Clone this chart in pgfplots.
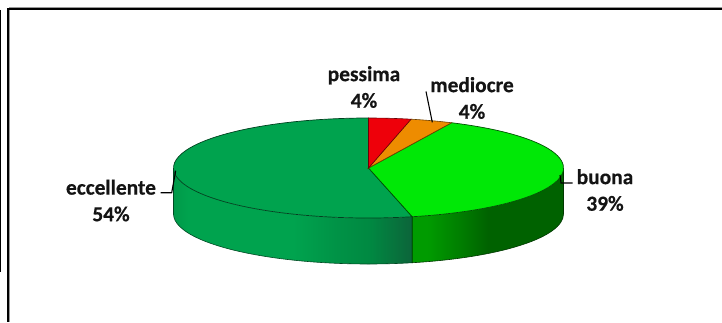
\documentclass[border=0pt]{standalone}
\usepackage{pgfplots}
\usepackage{pgfplotstable}
\usepackage{fontspec}
\pgfplotsset{compat=1.18}
\setmainfont{Carlito}[BoldFont=Carlito Bold,BoldFeatures={FakeBold=0.4}]

% Share of answers per rating, clockwise from the top of the pie
\pgfplotstableread{
share
3.5
3.5
39.4
53.6
}\ratings

\definecolor{cpessima}{RGB}{238,0,10}
\definecolor{cmediocre}{RGB}{238,140,0}
\definecolor{cbuona}{RGB}{0,232,6}
\definecolor{cecc}{RGB}{0,163,78}

% Horizontal shading of the side wall, one per visible slice;
% the range 25bp to 75bp spans the width of the shaded path
\definecolor{eccdark}{RGB}{12,100,58}
\pgfdeclarehorizontalshading{wallecc}{100bp}{
  color(0bp)=(cecc!94!black); color(25bp)=(cecc!94!black); color(28bp)=(cecc); color(50bp)=(cecc);
  color(59bp)=(cecc!90!black); color(66bp)=(cecc!84!black); color(75bp)=(eccdark); color(100bp)=(eccdark)}
\definecolor{wallA}{RGB}{0,155,0}
\definecolor{wallB}{RGB}{0,128,0}
\definecolor{wallC}{RGB}{0,98,0}
\pgfdeclarehorizontalshading{wallbuona}{100bp}{
  color(0bp)=(wallA); color(30bp)=(wallA); color(40bp)=(wallB); color(50bp)=(wallC);
  color(100bp)=(wallC)}

\newcommand{\angleafter}[3]{%
  \pgfplotstablegetelem{#2}{share}\of\ratings
  \pgfmathsetmacro{#1}{#3-3.6*\pgfplotsretval}}

% Pie geometry in axis units
\def\cx{368.5}\def\cy{154}\def\rx{195}\def\ry{50}\def\dep{46}

% Slice boundaries, angles run clockwise starting at the top
\angleafter{\aA}{0}{90}
\angleafter{\aB}{1}{\aA}
\angleafter{\aC}{2}{\aB}
\angleafter{\aD}{3}{\aC}
\pgfmathsetmacro{\lx}{\cx-\rx}
\pgfmathsetmacro{\pAx}{\cx+\rx*cos(\aA)}\pgfmathsetmacro{\pAy}{\cy+\ry*sin(\aA)}
\pgfmathsetmacro{\pBx}{\cx+\rx*cos(\aB)}\pgfmathsetmacro{\pBy}{\cy+\ry*sin(\aB)}
\pgfmathsetmacro{\pCx}{\cx+\rx*cos(\aC)}\pgfmathsetmacro{\pCy}{\cy+\ry*sin(\aC)}
\pgfmathsetmacro{\topy}{\cy+\ry}

\tikzset{
  rim/.style={x radius=\rx pt,y radius=\ry pt},
  lab/.style={font=\fontsize{21.4}{26.6}\selectfont\bfseries, align=center, inner sep=0pt, text=black!92},
}

\begin{document}
\begin{tikzpicture}[x=1pt,y=1pt]
\path[use as bounding box] (0,0) rectangle (722,322);
\begin{axis}[
  at={(0,0)}, anchor=south west,
  width=722pt, height=322pt, scale only axis,
  xmin=0, xmax=722, ymin=0, ymax=322,
  hide axis, clip=false]

% Slide frame
\addplot[black!40, line width=3pt, forget plot] coordinates {(722,313) (8.5,313)};
\addplot[black!40, line width=2pt, forget plot] coordinates {(9,313) (9,0)};
\addplot[black, line width=1.6pt, forget plot] coordinates {(722,313) (8,313) (8,0)};
\addplot[black, line width=1.6pt, forget plot] coordinates {(0.6,312) (0.6,50)};

% Side wall under eccellente
\shade[shading=wallecc]
  (axis cs:\lx,\cy) arc[start angle=-180,end angle=\aC,rim]
  -- ++(0,-\dep pt) arc[start angle=\aC,end angle=-180,rim] -- cycle;
\draw[cecc!45!black, line width=0.6pt]
  (axis cs:\lx,\cy) -- ++(0,-\dep pt) arc[start angle=-180,end angle=\aC,rim]
  -- (axis cs:\pCx,\pCy);

% Side wall under buona
\shade[shading=wallbuona]
  (axis cs:\pCx,\pCy) arc[start angle=\aC,end angle=0,rim]
  -- ++(0,-\dep pt) arc[start angle=0,end angle=\aC,rim] -- cycle;
\draw[green!22!black, line width=0.6pt]
  (axis cs:\pCx,\pCy) -- ++(0,-\dep pt) arc[start angle=\aC,end angle=0,rim] -- ++(0,\dep pt);

% Top face
\filldraw[fill=cecc, draw=cecc!40!black, line width=0.7pt]
  (axis cs:\cx,\cy) -- (axis cs:\pCx,\pCy) arc[start angle=\aC,end angle=\aD,rim] -- cycle;
\filldraw[fill=cbuona, draw=cbuona!35!black, line width=0.7pt]
  (axis cs:\cx,\cy) -- (axis cs:\pBx,\pBy) arc[start angle=\aB,end angle=\aC,rim] -- cycle;
\filldraw[fill=cmediocre, draw=cmediocre!45!black, line width=0.6pt]
  (axis cs:\cx,\cy) -- (axis cs:\pAx,\pAy) arc[start angle=\aA,end angle=\aB,rim] -- cycle;
\filldraw[fill=cpessima, draw=cpessima!45!black, line width=0.6pt]
  (axis cs:\cx,\cy) -- (axis cs:\cx,\topy) arc[start angle=90,end angle=\aA,rim] -- cycle;

% Leader lines
\addplot[black, line width=1.1pt, forget plot] coordinates {(426,230.5) (432.3,199.7)};
\addplot[black, line width=1.1pt, forget plot] coordinates {(572.7,139) (561,139) (560,147)};
\addplot[black, line width=1.1pt, forget plot] coordinates {(160.7,129.3) (171.7,129.3) (175.7,151.3)};

% Category and value labels
\node[lab] at (axis cs:364,235) {pessima\\4\%};
\node[lab] at (axis cs:472,224) {mediocre\\4\%};
\node[lab] at (axis cs:605,132) {buona\\39\%};
\node[lab] at (axis cs:111,121.5) {eccellente\\54\%};
\end{axis}
\end{tikzpicture}
\end{document}
